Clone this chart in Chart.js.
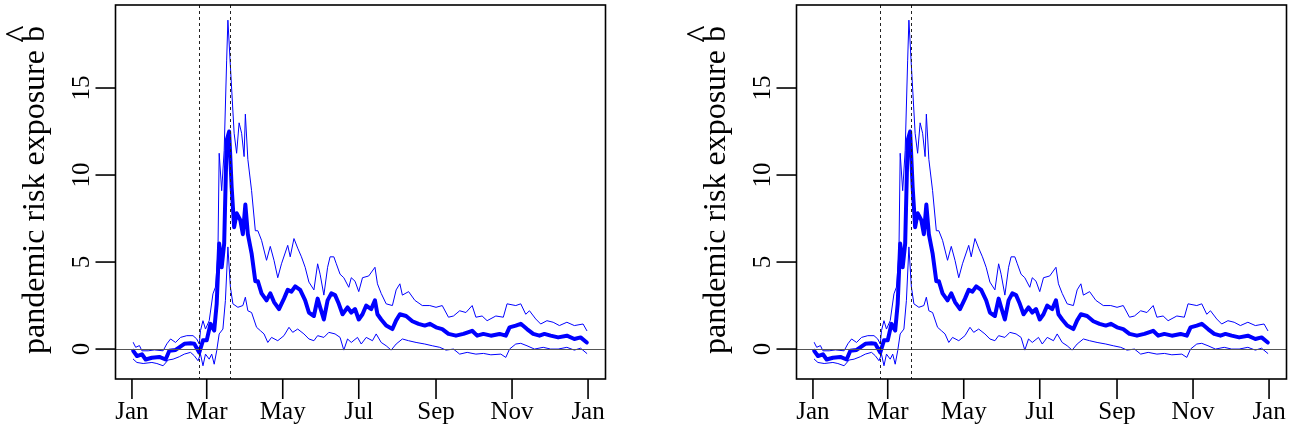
<!DOCTYPE html>
<html>
<head>
<meta charset="utf-8">
<script src="https://cdn.jsdelivr.net/npm/chart.js@4.4.0/dist/chart.umd.min.js"></script>
<style>
body { margin: 0; background: #fff; width: 1299px; height: 438px; overflow: hidden; }
canvas { position: absolute; top: 0; }
#left { left: 0; }
#right { left: 681px; }
</style>
</head>
<body>
<canvas id="left" width="618" height="438"></canvas>
<canvas id="right" width="618" height="438"></canvas>
<script>
// days counted from 1 Jan 2020
var monthTicks = [0, 60, 121, 182, 244, 305, 366];
var monthLabels = ['Jan', 'Mar', 'May', 'Jul', 'Sep', 'Nov', 'Jan'];
var yTicks = [0, 5, 10, 15];
var eventDays = [54, 79];
var yTitle = 'pandemic risk exposure b';

var estDays = [1,4,8,11,16,22,27,30,35,38,42,47,50,54,57,60,63,66,68,70,72,74,76,78,80,82,84,87,89,91,93,96,99,101,104,108,111,114,118,122,125,128,131,135,139,142,146,149,151,154,157,160,163,166,169,173,176,179,182,185,188,192,195,197,200,204,209,212,215,220,225,230,235,239,244,249,254,260,266,273,277,282,288,295,300,303,308,312,317,322,327,331,336,342,349,355,360,365];
var estVals = [-0.1,-0.4,-0.3,-0.6,-0.5,-0.45,-0.6,-0.1,-0.05,0.1,0.3,0.33,0.3,-0.2,0.5,0.5,1.45,1.06,2.6,6.06,4.7,6.06,12.0,12.5,9.3,7.0,7.8,7.4,6.6,8.3,6.6,5.5,3.9,3.9,3.2,2.8,3.2,2.7,2.3,2.9,3.4,3.3,3.6,3.4,2.8,2.1,1.9,2.9,2.4,1.7,2.8,3.2,3.1,2.6,2.0,2.4,2.1,2.3,1.7,2.0,2.5,2.3,2.8,2.0,1.7,1.35,1.15,1.65,2.0,1.9,1.6,1.45,1.35,1.45,1.25,1.15,0.87,0.77,0.87,1.05,0.77,0.87,0.77,0.87,0.77,1.25,1.35,1.45,1.15,0.87,0.77,0.87,0.77,0.67,0.77,0.58,0.67,0.38];

var upDays = [1,3,6,8,13,18,25,28,31,35,39,44,49,52,54,55,57,59,62,65,67,69,70,72,74,76,77,79,82,84,86,88,90,91,93,96,99,101,104,108,111,114,117,120,125,127,130,133,136,139,142,146,149,151,154,157,159,162,164,167,170,174,176,179,182,185,190,195,197,200,204,209,212,215,217,222,227,233,239,244,249,254,258,263,268,273,276,281,285,292,298,301,308,312,316,319,324,328,333,338,343,349,355,362,365];
var upVals = [0.38,0.1,0.2,-0.1,-0.1,-0.05,-0.1,0.3,0.58,0.38,0.67,0.77,0.77,0.58,0.29,1.06,1.63,1.15,1.63,3.17,3.56,5.5,11.25,9.1,11.4,16.6,18.9,16.25,12.4,11.25,13.0,12.4,11.06,13.5,10.9,9.1,6.8,6.8,6.25,5.1,5.9,5.1,4.1,4.9,5.96,5.3,6.35,5.8,5.3,4.7,3.85,3.4,4.9,4.3,3.1,4.7,5.3,5.3,4.9,4.3,4.1,3.55,4.1,3.9,3.3,4.1,4.2,4.7,3.75,3.2,2.6,2.5,3.4,3.75,3.1,3.3,2.8,2.5,2.5,2.4,2.5,1.83,1.9,2.2,2.1,2.5,1.83,1.9,1.63,1.9,1.83,2.6,2.5,2.6,2.0,2.2,1.73,1.44,1.63,1.54,1.35,1.54,1.35,1.44,1.06];

var loDays = [1,4,9,16,20,25,29,33,38,42,47,50,53,55,57,59,62,64,66,68,70,73,75,77,79,81,85,89,91,93,96,100,103,106,109,112,117,122,126,129,133,138,142,146,149,154,158,163,167,170,173,176,181,184,188,193,196,200,204,208,212,217,222,228,235,241,247,252,258,263,269,276,282,288,296,300,303,308,312,317,323,330,336,342,349,355,360,365];
var loVals = [-0.58,-0.77,-0.83,-0.77,-0.83,-0.96,-0.63,-0.58,-0.44,-0.29,-0.19,-0.38,-0.67,-0.29,-0.96,-0.29,-0.58,-0.29,-0.87,-0.1,0.87,1.15,2.8,5.87,3.56,2.6,2.4,2.5,2.98,2.2,2.1,1.25,1.06,0.87,0.38,0.67,0.48,0.77,1.25,0.96,1.15,0.87,0.58,0.48,0.77,0.67,0.96,0.87,0.67,-0.06,0.58,0.38,0.67,0.29,0.67,0.48,0.87,0.38,0.19,-0.06,0.29,0.58,0.48,0.38,0.29,0.19,0.1,-0.06,0,-0.29,-0.19,-0.29,-0.25,-0.33,-0.29,-0.48,0,0.29,0.33,0.19,0,0.1,0,0,0.1,-0.06,0.05,-0.25];

function pts(days, vals) {
  return days.map(function (d, i) { return {x: d, y: vals[i]}; });
}

var serif = 'Liberation Serif, Times New Roman, serif';

var rAxes = {
  id: 'rAxes',
  afterDatasetsDraw: function (chart) {
    var ctx = chart.ctx, a = chart.chartArea;
    var xs = chart.scales.x, ys = chart.scales.y;
    ctx.save();
    ctx.beginPath();
    ctx.rect(a.left, a.top, a.width, a.height);
    ctx.clip();
    var y0 = Math.round(ys.getPixelForValue(0)) + 0.5;
    ctx.strokeStyle = '#555';
    ctx.lineWidth = 1;
    ctx.beginPath();
    ctx.moveTo(a.left, y0);
    ctx.lineTo(a.right, y0);
    ctx.stroke();
    ctx.strokeStyle = '#222';
    ctx.setLineDash([3, 3]);
    eventDays.forEach(function (d) {
      var px = Math.round(xs.getPixelForValue(d)) + 0.5;
      ctx.beginPath();
      ctx.moveTo(px, a.top);
      ctx.lineTo(px, a.bottom);
      ctx.stroke();
    });
    ctx.restore();
  },
  afterDraw: function (chart) {
    var ctx = chart.ctx, a = chart.chartArea;
    var xs = chart.scales.x, ys = chart.scales.y;
    ctx.save();
    ctx.strokeStyle = '#000';
    ctx.lineWidth = 1.6;
    ctx.strokeRect(a.left, a.top, a.width, a.height);
    ctx.fillStyle = '#000';
    ctx.font = '25px ' + serif;
    ctx.textAlign = 'center';
    ctx.textBaseline = 'alphabetic';
    monthTicks.forEach(function (d, i) {
      var px = xs.getPixelForValue(d);
      ctx.beginPath();
      ctx.moveTo(px, a.bottom);
      ctx.lineTo(px, a.bottom + 20);
      ctx.stroke();
      ctx.fillText(monthLabels[i], px, a.bottom + 40);
    });
    yTicks.forEach(function (v) {
      var py = ys.getPixelForValue(v);
      ctx.beginPath();
      ctx.moveTo(a.left - 20, py);
      ctx.lineTo(a.left, py);
      ctx.stroke();
      ctx.save();
      ctx.translate(a.left - 26.5, py);
      ctx.rotate(-Math.PI / 2);
      ctx.fillText(String(v), 0, 0);
      ctx.restore();
    });
    // axis title with a hat over the b
    ctx.font = '32px ' + serif;
    ctx.translate(a.left - 71.5, (a.top + a.bottom) / 2 - 2);
    ctx.rotate(-Math.PI / 2);
    ctx.fillText(yTitle, 0, 0);
    var w = ctx.measureText(yTitle).width;
    var bw = ctx.measureText('b').width;
    ctx.font = '36px ' + serif;
    ctx.fillText('^', w / 2 - bw / 2, -14);
    ctx.restore();
  }
};

function makeChart(id) {
  return new Chart(document.getElementById(id), {
    type: 'line',
    data: {
      datasets: [
        { label: 'upper', data: pts(upDays, upVals), borderColor: '#0000ff', borderWidth: 1 },
        { label: 'lower', data: pts(loDays, loVals), borderColor: '#0000ff', borderWidth: 1 },
        { label: 'estimate', data: pts(estDays, estVals), borderColor: '#0000ff', borderWidth: 4 }
      ]
    },
    options: {
      responsive: false,
      animation: false,
      devicePixelRatio: 1,
      layout: { padding: { left: 115.5, right: 12.5, top: 5, bottom: 59 } },
      elements: {
        point: { radius: 0 },
        line: { tension: 0, fill: false, borderJoinStyle: 'round', borderCapStyle: 'round' }
      },
      plugins: { legend: { display: false }, tooltip: { enabled: false } },
      scales: {
        x: { type: 'linear', min: -13.2, max: 380, display: false },
        y: { type: 'linear', min: -1.72, max: 19.77, display: false }
      }
    },
    plugins: [rAxes]
  });
}

makeChart('left');
makeChart('right');
</script>
</body>
</html>
